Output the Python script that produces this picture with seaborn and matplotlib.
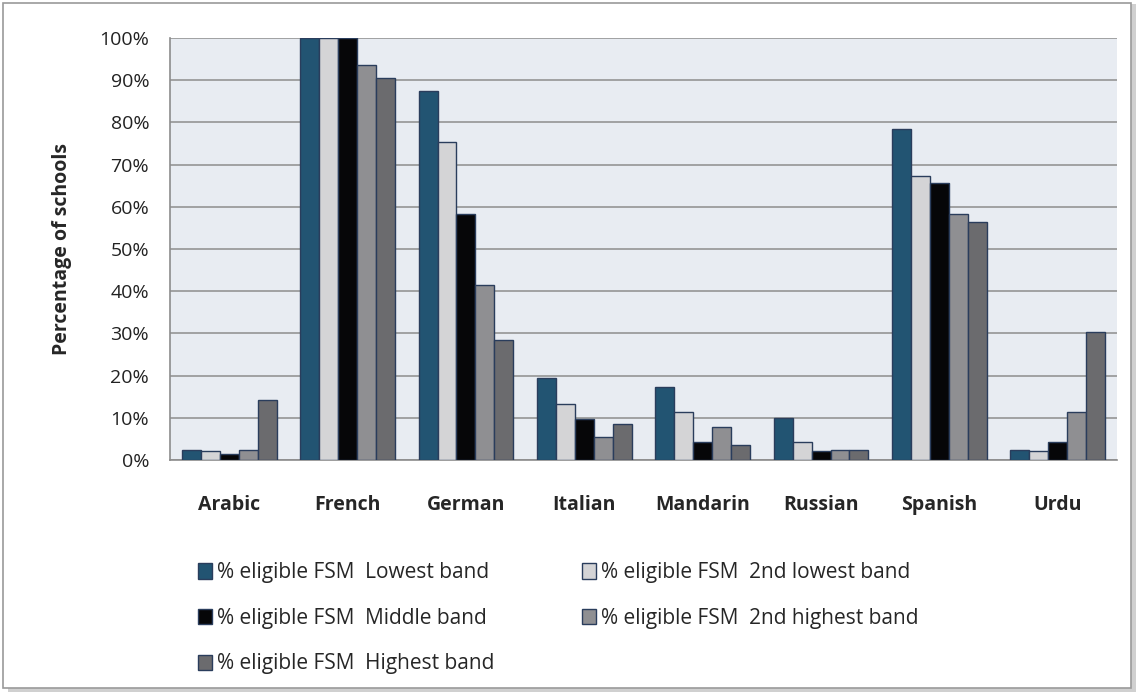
import pandas as pd
import seaborn as sns
import matplotlib.pyplot as plt
from matplotlib.patches import Rectangle

# data
languages = ['Arabic', 'French', 'German', 'Italian', 'Mandarin', 'Russian', 'Spanish', 'Urdu']
bands = ['% eligible FSM  Lowest band', '% eligible FSM  2nd lowest band',
         '% eligible FSM  Middle band', '% eligible FSM  2nd highest band',
         '% eligible FSM  Highest band']
lowest = [2.4, 100, 87.4, 19.4, 17.3, 9.9, 78.4, 2.4]
second_lowest = [2.2, 100, 75.3, 13.3, 11.4, 4.3, 67.3, 2.2]
middle = [1.4, 100, 58.3, 9.7, 4.3, 2.2, 65.6, 4.3]
second_highest = [2.4, 93.5, 41.5, 5.4, 7.8, 2.3, 58.3, 11.4]
highest = [14.2, 90.5, 28.4, 8.5, 3.5, 2.3, 56.4, 30.3]

colors = ['#15587f', '#d4d4d6', '#060608', '#8e8f92', '#6a6b6e']

rows = []
for band, vals in zip(bands, [lowest, second_lowest, middle, second_highest, highest]):
    for lang, v in zip(languages, vals):
        rows.append({'language': lang, 'band': band, 'pct': v})
df = pd.DataFrame(rows)

sns.set_style('white')
plt.rcParams['font.family'] = ['Open Sans', 'DejaVu Sans']

fig = plt.figure(figsize=(11.39, 6.98), dpi=100)
ax = fig.add_axes([170 / 1139, 1 - 460 / 698, (1117 - 170) / 1139, (460 - 38) / 698])

# outer frame with shadow
fig.patches.append(Rectangle((8 / 1139, 6 / 698), 1128 / 1139, 688 / 698, transform=fig.transFigure,
                             facecolor='#d0d0d0', edgecolor='none', zorder=-2))
fig.patches.append(Rectangle((3 / 1139, 10 / 698), 1128 / 1139, 685 / 698, transform=fig.transFigure,
                             facecolor='white', edgecolor='#9a9a9a', linewidth=1.2, zorder=-1))

sns.barplot(data=df, x='language', y='pct', hue='band', hue_order=bands, order=languages,
            palette=colors, width=0.8, gap=0, edgecolor='#2a3d5c', linewidth=1.0,
            errorbar=None, ax=ax, zorder=3)

ax.set_facecolor('#e8ecf2')
ax.set_ylim(0, 100)
ax.set_xlim(-0.5, len(languages) - 0.5)
ax.set_yticks(range(0, 101, 10))
ax.set_yticklabels([f'{t}%' for t in range(0, 101, 10)], fontsize=14, color='#222222')
ax.yaxis.grid(True, color='#959595', linewidth=1.2, zorder=0)
ax.set_axisbelow(True)
ax.set_xticks(range(len(languages)))
ax.set_xticklabels(languages, fontsize=14, fontweight='bold')
ax.set_xticks([i + 0.5 for i in range(len(languages) - 1)], minor=True)
ax.tick_params(axis='x', which='major', length=0, pad=25)
ax.tick_params(axis='x', which='minor', length=6, color='#8c8c8c', width=1)
ax.tick_params(axis='y', length=5, color='#8c8c8c', pad=10)
ax.set_xlabel('')
ax.set_ylabel('Percentage of schools', fontsize=14, fontweight='bold', labelpad=20)
for side in ['top', 'right']:
    ax.spines[side].set_visible(False)
for side in ['left', 'bottom']:
    ax.spines[side].set_color('#8c8c8c')
    ax.spines[side].set_linewidth(1.2)

handles, labels = ax.get_legend_handles_labels()
ax.get_legend().remove()
order = [0, 2, 4, 1, 3]
fig.legend([handles[i] for i in order], [labels[i] for i in order], ncol=2,
           loc='upper left', bbox_to_anchor=(190 / 1139, 1 - 554 / 698), frameon=False,
           fontsize=15, handlelength=0.65, handleheight=0.75, handletextpad=0.25,
           columnspacing=4.2, labelspacing=1.18, borderaxespad=0)

fig.savefig('out.png', dpi=100)
